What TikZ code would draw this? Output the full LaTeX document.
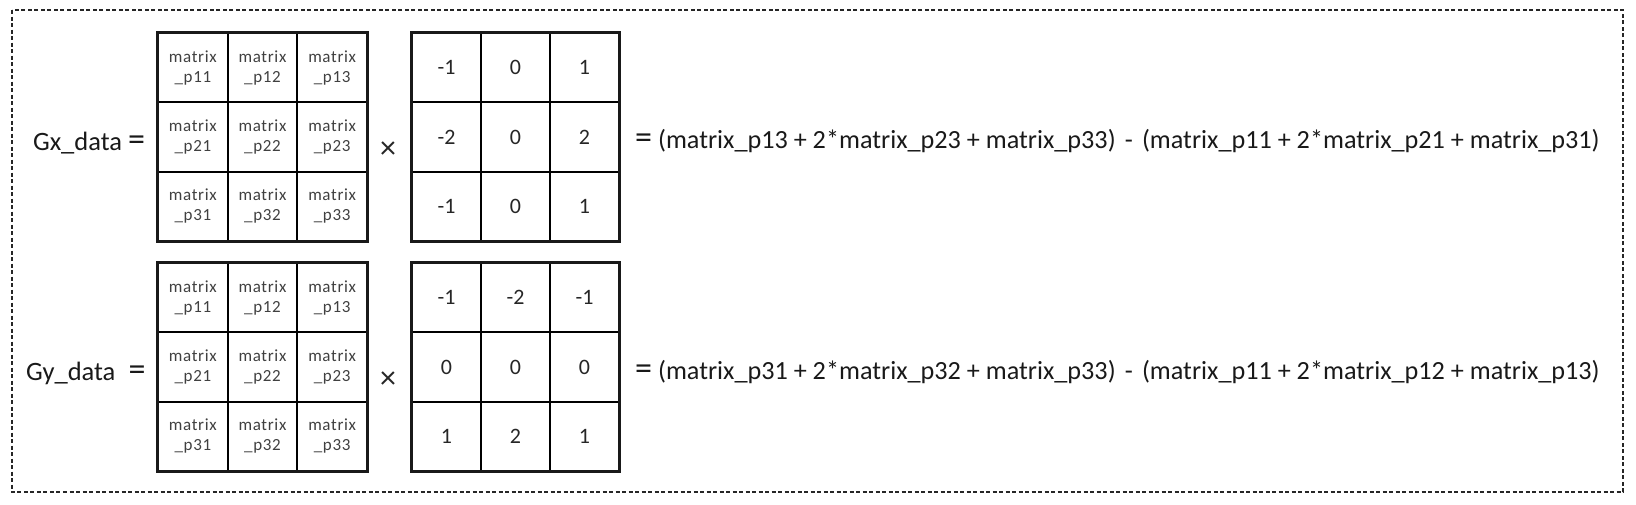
\documentclass[tikz,border=0pt]{standalone}
\usepackage{fontspec}
\setmainfont{Carlito}
\newcommand{\bigeq}{{\fontsize{34}{34}\selectfont =}}
\begin{document}
\begin{tikzpicture}[x=1pt,y=-1pt,
  dcell/.style={draw=black,line width=1.8pt,minimum width=69.67pt,minimum height=69.33pt,inner sep=0pt,align=center,text=black!75,font=\fontsize{17}{20}\selectfont\addfontfeatures{LetterSpace=4}},
  kcell/.style={draw=black,line width=1.8pt,minimum width=69pt,minimum height=69.33pt,inner sep=0pt,align=center,text=black!85,font=\fontsize{22}{24}\selectfont},
  lbl/.style={font=\fontsize{26.5}{30}\selectfont,anchor=west,inner sep=0pt,text=black!90},
  eqn/.style={font=\fontsize{26.2}{30}\selectfont,anchor=west,inner sep=0pt,text=black!90},
  times/.style={font=\fontsize{32}{32}\selectfont,inner sep=0pt,text=black!85},
  frame/.style={draw=black!85,line width=2pt,dash pattern=on 4pt off 2.5pt},
  outer/.style={draw=black!90,line width=3pt}]
\useasboundingbox (0,0) rectangle (1636,504);
\draw[frame] (12,10) rectangle (1623,492);
% data matrices
\foreach \p/\top in {gx/33,gy/263}{
  \foreach \r in {1,2,3}{
    \foreach \c in {1,2,3}{
      \node[dcell] (\p d\r\c) at ({158+69.67*(\c-0.5)},{\top+69.33*(\r-0.5)}) {matrix\\\_p\r\c};
    }
  }
  \draw[outer] (\p d11.north west) rectangle (\p d33.south east);
}
% kernels
\foreach \v [count=\i from 0] in {-1,0,1,-2,0,2,-1,0,1}{
  \pgfmathtruncatemacro\rr{int(\i/3)+1}
  \pgfmathtruncatemacro\cc{mod(\i,3)+1}
  \node[kcell] (gxk\rr\cc) at ({412+69*(\cc-0.5)},{33+69.33*(\rr-0.5)}) {\v};
}
\foreach \v [count=\i from 0] in {-1,-2,-1,0,0,0,1,2,1}{
  \pgfmathtruncatemacro\rr{int(\i/3)+1}
  \pgfmathtruncatemacro\cc{mod(\i,3)+1}
  \node[kcell] (gyk\rr\cc) at ({412+69*(\cc-0.5)},{263+69.33*(\rr-0.5)}) {\v};
}
\draw[outer] (gxk11.north west) rectangle (gxk33.south east);
\draw[outer] (gyk11.north west) rectangle (gyk33.south east);
% labels
\node[lbl] (gxl) at (33,143) {Gx\_data \bigeq};
\node[lbl] (gyl) at (26,373) {Gy\_data\hspace{0.5em}\bigeq};
\node[times] (gxx) at (388,150) {×};
\node[times] (gyx) at (388,380) {×};
\node[eqn] (gxe) at (635,141) {\bigeq{} (matrix\_p13 + 2*matrix\_p23 + matrix\_p33)\hspace{0.35em}-\hspace{0.35em}(matrix\_p11 + 2*matrix\_p21 + matrix\_p31)};
\node[eqn] (gye) at (635,372) {\bigeq{} (matrix\_p31 + 2*matrix\_p32 + matrix\_p33)\hspace{0.35em}-\hspace{0.35em}(matrix\_p11 + 2*matrix\_p12 + matrix\_p13)};
\end{tikzpicture}
\end{document}
